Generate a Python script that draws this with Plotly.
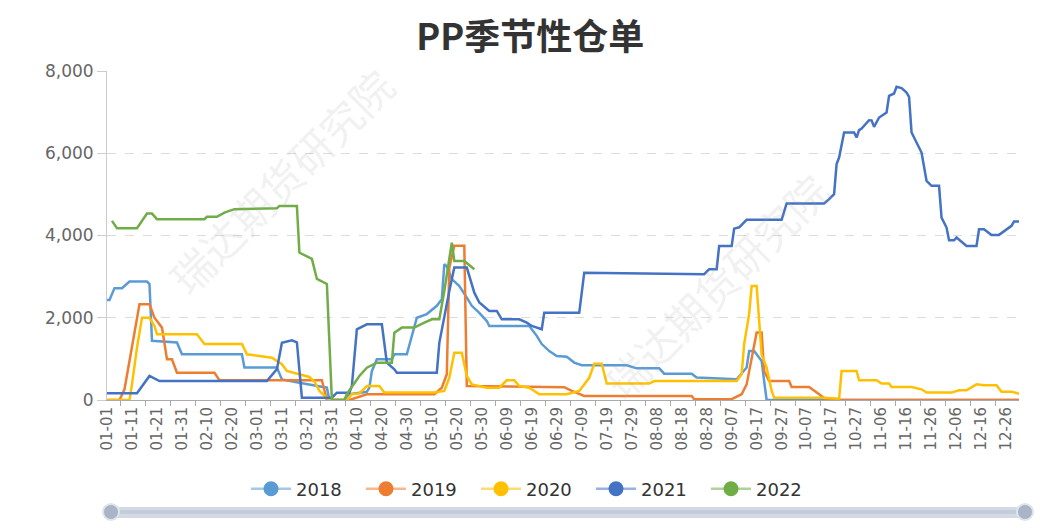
import pandas as pd
import plotly.graph_objects as go

# Categories: day-of-year labels (leap-year calendar, MM-DD)
days = pd.date_range("2020-01-01", "2020-12-31", freq="D").strftime("%m-%d").tolist()
tick_labels = days[::10]
y_ticks = [0, 2000, 4000, 6000, 8000]

years = ["2018", "2019", "2020", "2021", "2022"]
colors = ["#5B9BD5", "#ED7D31", "#FFC000", "#4472C4", "#70AD47"]

# Series (date, warehouse receipts)
s2018 = [("01-01", 2430), ("01-02", 2430), ("01-04", 2720), ("01-07", 2720), ("01-10", 2880),
         ("01-17", 2880), ("01-18", 2820), ("01-19", 1440), ("01-29", 1400), ("01-31", 1110),
         ("02-24", 1110), ("02-25", 790), ("03-09", 790), ("03-11", 500), ("03-18", 420),
         ("03-26", 340), ("03-29", 300), ("03-30", 0), ("04-05", 0), ("04-07", 140),
         ("04-14", 200), ("04-15", 300), ("04-16", 700), ("04-18", 990), ("04-24", 990),
         ("04-25", 1110), ("04-30", 1110), ("05-04", 2000), ("05-08", 2090), ("05-12", 2290),
         ("05-14", 2450), ("05-15", 3300), ("05-16", 3250), ("05-18", 2940), ("05-21", 2770),
         ("05-24", 2490), ("05-26", 2290), ("05-29", 2120), ("06-01", 1920), ("06-02", 1800),
         ("06-18", 1800), ("06-21", 1560), ("06-23", 1360), ("06-26", 1190), ("06-29", 1070),
         ("07-03", 1050), ("07-06", 910), ("07-09", 845), ("07-27", 845), ("07-31", 770),
         ("08-09", 770), ("08-11", 640), ("08-22", 640), ("08-24", 545), ("09-09", 505),
         ("09-13", 790), ("09-14", 1190), ("09-16", 1190), ("09-19", 950), ("09-20", 460),
         ("09-21", 0), ("12-31", 0)]

s2019 = [("01-01", 0), ("01-06", 0), ("01-08", 260), ("01-14", 2330), ("01-18", 2330),
         ("01-20", 2000), ("01-23", 1760), ("01-24", 1360), ("01-25", 990), ("01-27", 990),
         ("01-29", 665), ("02-13", 665), ("02-15", 480), ("03-27", 480), ("03-29", 0),
         ("04-07", 0), ("04-12", 100), ("04-14", 140), ("05-11", 140), ("05-14", 300),
         ("05-16", 625), ("05-17", 3220), ("05-19", 3750), ("05-23", 3750), ("05-24", 340),
         ("06-26", 320), ("07-02", 310), ("07-05", 220), ("07-10", 100), ("08-22", 100),
         ("08-23", 20), ("09-07", 20), ("09-11", 140), ("09-13", 380), ("09-17", 1640),
         ("09-19", 1640), ("09-20", 700), ("09-22", 460), ("09-30", 460), ("10-01", 316),
         ("10-08", 316), ("10-12", 140), ("10-15", 0), ("12-31", 0)]

s2020 = [("01-01", 0), ("01-10", 0), ("01-11", 380), ("01-13", 1270), ("01-15", 2000),
         ("01-18", 2000), ("01-20", 1800), ("01-21", 1600), ("02-06", 1600), ("02-09", 1360),
         ("02-24", 1360), ("02-26", 1110), ("03-07", 1030), ("03-11", 870), ("03-13", 706),
         ("03-18", 625), ("03-22", 560), ("03-24", 450), ("03-26", 220), ("03-29", 56),
         ("03-30", 0), ("04-06", 0), ("04-08", 140), ("04-11", 160), ("04-14", 340),
         ("04-19", 340), ("04-21", 180), ("05-11", 180), ("05-15", 220), ("05-17", 540),
         ("05-19", 1150), ("05-22", 1150), ("05-24", 585), ("05-26", 380), ("06-01", 300),
         ("06-06", 300), ("06-09", 480), ("06-12", 480), ("06-14", 340), ("06-18", 300),
         ("06-22", 140), ("07-03", 140), ("07-08", 220), ("07-09", 300), ("07-12", 540),
         ("07-14", 880), ("07-17", 880), ("07-19", 400), ("08-05", 400), ("08-07", 460),
         ("09-09", 460), ("09-11", 625), ("09-12", 1360), ("09-14", 2090), ("09-15", 2770),
         ("09-17", 2770), ("09-18", 1900), ("09-19", 1100), ("09-21", 790), ("09-23", 220),
         ("09-24", 56), ("10-14", 56), ("10-20", 30), ("10-21", 706), ("10-27", 706),
         ("10-28", 480), ("11-04", 480), ("11-06", 400), ("11-09", 400), ("11-10", 316),
         ("11-18", 316), ("11-22", 260), ("11-24", 180), ("12-04", 180), ("12-07", 235),
         ("12-10", 235), ("12-14", 380), ("12-17", 360), ("12-22", 360), ("12-24", 203),
         ("12-28", 203), ("12-31", 154)]

s2021 = [("01-01", 165), ("01-13", 165), ("01-18", 585), ("01-22", 460), ("03-05", 460),
         ("03-09", 750), ("03-11", 1390), ("03-15", 1450), ("03-17", 1400), ("03-19", 56),
         ("03-31", 56), ("04-02", 178), ("04-07", 178), ("04-08", 340), ("04-10", 1720),
         ("04-14", 1840), ("04-20", 1840), ("04-22", 910), ("04-25", 746), ("04-26", 665),
         ("05-12", 665), ("05-13", 1390), ("05-17", 2650), ("05-19", 3220), ("05-24", 3220),
         ("05-27", 2610), ("05-29", 2370), ("06-02", 2165), ("06-05", 2165), ("06-07", 1963),
         ("06-14", 1963), ("06-17", 1880), ("06-19", 1800), ("06-23", 1720), ("06-24", 2124),
         ("07-08", 2124), ("07-10", 3097), ("08-27", 3060), ("08-29", 3180), ("09-01", 3180),
         ("09-02", 3745), ("09-07", 3745), ("09-08", 4166), ("09-10", 4200), ("09-13", 4380),
         ("09-27", 4380), ("09-29", 4780), ("10-14", 4780), ("10-16", 4883), ("10-18", 5005),
         ("10-19", 5735), ("10-20", 5896), ("10-22", 6504), ("10-26", 6504), ("10-27", 6382),
         ("10-28", 6561), ("10-29", 6600), ("11-01", 6804), ("11-02", 6800), ("11-03", 6642),
         ("11-05", 6869), ("11-08", 6991), ("11-09", 7397), ("11-11", 7453), ("11-12", 7616),
         ("11-14", 7583), ("11-16", 7477), ("11-17", 7372), ("11-18", 6504), ("11-19", 6382),
         ("11-22", 6017), ("11-24", 5328), ("11-26", 5207), ("11-29", 5207), ("11-30", 4436),
         ("12-02", 4193), ("12-03", 3885), ("12-05", 3885), ("12-06", 3950), ("12-10", 3747),
         ("12-14", 3747), ("12-15", 4153), ("12-17", 4153), ("12-20", 4015), ("12-23", 4015),
         ("12-28", 4234), ("12-29", 4339), ("12-31", 4339)]

s2022 = [("01-03", 4355), ("01-05", 4177), ("01-13", 4177), ("01-17", 4533), ("01-19", 4533),
         ("01-21", 4397), ("02-09", 4397), ("02-10", 4453), ("02-14", 4453), ("02-17", 4557),
         ("02-21", 4640), ("03-09", 4664), ("03-10", 4720), ("03-17", 4720), ("03-18", 3585),
         ("03-23", 3430), ("03-25", 2944), ("03-29", 2822), ("03-31", 0), ("04-05", 0),
         ("04-06", 146), ("04-11", 584), ("04-14", 786), ("04-18", 908), ("04-24", 908),
         ("04-25", 1638), ("04-28", 1760), ("05-03", 1760), ("05-07", 1881), ("05-10", 1963),
         ("05-13", 1963), ("05-15", 2652), ("05-18", 3828), ("05-19", 3382), ("05-23", 3382),
         ("05-27", 3180)]

series = [s2018, s2019, s2020, s2021, s2022]

FONT = "Noto Sans CJK SC, Noto Sans, sans-serif"
NUMFONT = "DejaVu Sans"

fig = go.Figure()
for name, pts, color in zip(years, series, colors):
    fig.add_trace(go.Scatter(
        x=[p[0] for p in pts], y=[p[1] for p in pts], name=name, mode="lines",
        line=dict(color=color, width=2.5), showlegend=False,
    ))


def rgba(hex_color, a):
    h = hex_color.lstrip("#")
    return "rgba(%d,%d,%d,%s)" % (int(h[0:2], 16), int(h[2:4], 16), int(h[4:6], 16), a)


for name, color in zip(years, colors):
    fig.add_trace(go.Scatter(
        x=[None], y=[None], name=name, mode="lines+markers",
        line=dict(color=rgba(color, 0.55), width=2.5),
        marker=dict(color=color, size=15, symbol="circle"),
        showlegend=True,
    ))

# helper trace for the offset tick-mark axis
fig.add_trace(go.Scatter(x=[0], y=[None], xaxis="x2", showlegend=False, hoverinfo="skip"))

fig.update_layout(
    width=1048, height=532,
    paper_bgcolor="white", plot_bgcolor="white",
    margin=dict(l=107, r=29, t=71, b=132),
    font=dict(family=FONT, color="#666"),
    title=dict(text="<b>PP季节性仓单</b>", x=0.506, xref="container", xanchor="center",
               y=1 - 37 / 532, yref="container", yanchor="middle",
               font=dict(size=36, color="#333", family=FONT)),
    xaxis=dict(type="category", categoryorder="array", categoryarray=days,
               range=[0, 365], tickmode="array", tickvals=tick_labels, ticktext=tick_labels,
               tickangle=-90, ticks="", showgrid=False, showline=True, linecolor="#aaa",
               linewidth=1, tickfont=dict(size=15, color="#666", family=NUMFONT),
               zeroline=False, fixedrange=True),
    xaxis2=dict(overlaying="x", anchor="y", side="bottom", range=[0, 365],
                tickmode="array", tickvals=[5.5 + 10 * k for k in range(37)],
                ticks="outside", ticklen=5, tickcolor="#aaa", showticklabels=False,
                showgrid=False, showline=False, zeroline=False),
    yaxis=dict(range=[0, 8000], tickmode="array", tickvals=y_ticks, tickformat=",d",
               showgrid=True, gridcolor="#dcdcdc", griddash="dash", gridwidth=1,
               showline=True, linecolor="#ccc", ticks="outside", ticklen=9, tickcolor="#ccc",
               zeroline=False, tickfont=dict(size=17, color="#666", family=NUMFONT)),
    legend=dict(orientation="h", xref="container", yref="container", x=246 / 1048, xanchor="left",
                y=1 - 489 / 532, yanchor="middle", font=dict(size=18, color="#333", family=NUMFONT),
                itemwidth=40, entrywidth=60, bgcolor="rgba(0,0,0,0)"),
    showlegend=True,
)

# watermark text
for xc, yc in [(280, 180), (715, 285)]:
    fig.add_annotation(text="瑞达期货研究院", xref="paper", yref="paper",
                       x=(xc - 107) / 912, y=(400 - yc) / 329,
                       xanchor="center", yanchor="middle",
                       showarrow=False, textangle=-45,
                       font=dict(size=42, color="rgba(170,170,170,0.18)", family=FONT))


# data-zoom slider decoration
def px_x(px):
    return (px - 107) / 912


def px_y(py):
    return (400 - py) / 329


fig.add_shape(type="rect", xref="paper", yref="paper", x0=px_x(104), x1=px_x(1030),
              y0=px_y(518), y1=px_y(507), line=dict(width=0), fillcolor="#d3dae5", layer="above")
fig.add_shape(type="rect", xref="paper", yref="paper", x0=px_x(104), x1=px_x(1030),
              y0=px_y(514), y1=px_y(510), line=dict(width=0), fillcolor="#c4ccd9", layer="above")
for cx in [111, 1025]:
    fig.add_shape(type="circle", xref="paper", yref="paper", x0=px_x(cx - 8), x1=px_x(cx + 8),
                  y0=px_y(520), y1=px_y(504), line=dict(color="#dfe4ec", width=2),
                  fillcolor="#a9b4c6", layer="above")

fig.write_html("out.html", config={"displayModeBar": False},
               post_script="document.body.style.margin='0px';document.body.style.padding='0px';")
